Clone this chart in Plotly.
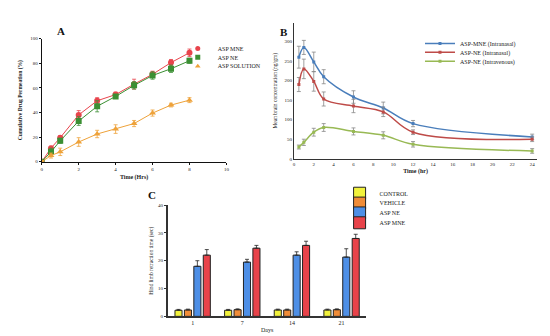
import plotly.graph_objects as go

# ---------- Panel A data ----------
a_time = [0, 0.5, 1, 2, 3, 4, 5, 6, 7, 8]
a_mne = [0, 11, 19.5, 38, 49.5, 54.5, 63, 71, 80.5, 88.5]
a_mne_err = [0, 1.5, 1.5, 3.5, 2.5, 2, 4, 2.5, 2.5, 3]
a_ne = [0, 8, 17, 33, 45, 53, 62, 70, 75.5, 82]
a_ne_err = [0, 3, 2, 3.5, 4.5, 1.5, 3, 3, 3, 2]
a_sol = [0, 5, 8, 16, 22.5, 26.5, 31, 39.5, 46, 50]
a_sol_err = [0, 2, 3, 3.5, 3, 3.5, 2.5, 2.5, 1.5, 2]

# ---------- Panel B data ----------
b_time = [0.5, 1, 2, 3, 6, 9, 12, 24]
b_mne = [260, 285, 248, 210, 158, 130, 90, 56]
b_mne_err = [28, 18, 25, 18, 16, 15, 8, 7]
b_ne = [190, 230, 198, 153, 135, 120, 68, 50]
b_ne_err = [18, 25, 25, 18, 17, 12, 6, 6]
b_iv = [30, 42, 68, 80, 70, 60, 37, 20]
b_iv_err = [5, 8, 10, 10, 9, 9, 7, 6]

# ---------- Panel C data ----------
c_days = ["1", "7", "14", "21"]
c_control = [2.2, 2.2, 2.3, 2.3]
c_control_err = [0.3, 0.3, 0.3, 0.3]
c_vehicle = [2.3, 2.4, 2.3, 2.4]
c_vehicle_err = [0.3, 0.3, 0.3, 0.3]
c_ne = [18, 19.5, 22, 21.3]
c_ne_err = [2, 1, 1.2, 3]
c_mne = [22, 24.5, 25.5, 28]
c_mne_err = [2, 1, 1.5, 1.5]

SERIF = "Liberation Serif"
W, H = 550, 336


def px_x(p):
    return p / W


def px_y(p):
    return 1 - p / H


fig = go.Figure()
legends = {}
leg_count = [0]


def new_legend(x_left, y_mid):
    leg_count[0] += 1
    key = "legend" if leg_count[0] == 1 else "legend%d" % leg_count[0]
    legends[key] = dict(x=px_x(x_left), y=px_y(y_mid), xanchor="left", yanchor="middle",
                        font=dict(family=SERIF, size=6, color="#222222"),
                        bgcolor="rgba(0,0,0,0)", itemwidth=30, tracegroupgap=0)
    return key


# Panel A traces
a_series = [
    ("ASP MNE", a_mne, a_mne_err, "#e8444c", "circle"),
    ("ASP NE", a_ne, a_ne_err, "#3b8f33", "square"),
    ("ASP SOLUTION", a_sol, a_sol_err, "#eea23a", "triangle-up"),
]
for name, y, e, col, sym in a_series:
    fig.add_trace(go.Scatter(
        x=a_time, y=y, mode="lines+markers", name=name, showlegend=False,
        line=dict(color=col, width=1),
        marker=dict(color=col, symbol=sym, size=6),
        error_y=dict(type="data", array=e, color=col, thickness=0.8, width=2),
        xaxis="x", yaxis="y"))
for i, (name, y, e, col, sym) in enumerate(a_series):
    fig.add_trace(go.Scatter(
        x=[None], y=[None], mode="markers", name=name,
        legend=new_legend(170, 39 + 9 * i),
        marker=dict(color=col, symbol=sym, size=5),
        xaxis="x", yaxis="y"))

# Panel B traces
b_series = [
    ("ASP-MNE (Intranasal)", b_mne, b_mne_err, "#4a7ebb"),
    ("ASP-NE (Intranasal)", b_ne, b_ne_err, "#be4b48"),
    ("ASP-NE (Intravenous)", b_iv, b_iv_err, "#98b954"),
]
for i, (name, y, e, col) in enumerate(b_series):
    fig.add_trace(go.Scatter(
        x=b_time, y=y, mode="lines+markers", name=name,
        legend=new_legend(414, 34 + 9 * i),
        line=dict(color=col, width=1.5, shape="spline", smoothing=1),
        marker=dict(color=col, symbol="square", size=3),
        error_y=dict(type="data", array=e, color="#888888", thickness=0.8, width=2),
        xaxis="x2", yaxis="y2"))

# Panel C traces
c_series = [
    ("CONTROL", c_control, c_control_err, "#f2f23c"),
    ("VEHICLE", c_vehicle, c_vehicle_err, "#f08c38"),
    ("ASP NE", c_ne, c_ne_err, "#4e8fe6"),
    ("ASP MNE", c_mne, c_mne_err, "#e8434a"),
]
for i, (name, y, e, col) in enumerate(c_series):
    fig.add_trace(go.Bar(
        x=c_days, y=y, name=name,
        legend=new_legend(333, 186 + 10 * i),
        marker=dict(color=col, line=dict(color="#222222", width=1)),
        error_y=dict(type="data", array=e, arrayminus=[0] * len(e), symmetric=False,
                     color="#222222", thickness=0.8, width=2),
        xaxis="x3", yaxis="y3"))

tickfont = dict(family=SERIF, size=5, color="#222222")

fig.update_layout(
    width=W, height=H,
    margin=dict(l=0, r=0, t=0, b=0),
    paper_bgcolor="white", plot_bgcolor="white",
    barmode="group", bargap=0.24, bargroupgap=0.25,
    font=dict(family=SERIF, color="#222222"),
    # Panel A axes
    xaxis=dict(domain=[px_x(33), px_x(219)], range=[0, 10], tickvals=[0, 2, 4, 6, 8, 10],
               showline=True, linecolor="#111111", linewidth=1, ticks="outside", ticklen=2,
               tickwidth=1, tickcolor="#111111", showgrid=False, zeroline=False,
               tickfont=tickfont,
               title=dict(text="<b>Time (Hrs)</b>", font=dict(family=SERIF, size=6), standoff=4),
               anchor="y"),
    yaxis=dict(domain=[px_y(154), px_y(29)], range=[0, 100], tickvals=[0, 20, 40, 60, 80, 100],
               showline=True, linecolor="#111111", linewidth=1, ticks="outside", ticklen=2,
               tickwidth=1, tickcolor="#111111", showgrid=False, zeroline=False,
               tickfont=tickfont,
               title=dict(text="<b>Cumulative Drug Permeation (%)</b>", font=dict(family=SERIF, size=5.5), standoff=7),
               anchor="x"),
    # Panel B axes
    xaxis2=dict(domain=[px_x(287), px_x(532)], range=[0, 24.5], tickvals=list(range(0, 25, 2)),
                showline=True, linecolor="#333333", linewidth=1, ticks="", showgrid=False,
                zeroline=False, tickfont=tickfont,
                title=dict(text="<b>Time (hr)</b>", font=dict(family=SERIF, size=6), standoff=3),
                anchor="y2"),
    yaxis2=dict(domain=[px_y(151), px_y(13)], range=[0, 348], tickvals=[0, 50, 100, 150, 200, 250, 300],
                showline=True, linecolor="#333333", linewidth=1, ticks="", showgrid=False,
                zeroline=False, tickfont=tickfont,
                title=dict(text="Mean brain concentration (ng/gm)", font=dict(family=SERIF, size=5.5), standoff=6),
                anchor="x2"),
    # Panel C axes
    xaxis3=dict(domain=[px_x(160), px_x(360)], range=[-0.5, 3.5], type="category",
                showline=True, linecolor="#333333", linewidth=1.5, ticks="", showgrid=False,
                tickfont=dict(family=SERIF, size=6, color="#222222"),
                title=dict(text="Days", font=dict(family=SERIF, size=6), standoff=2),
                anchor="y3"),
    yaxis3=dict(domain=[px_y(311), px_y(198)], range=[0, 40], tickvals=[0, 10, 20, 30, 40],
                showline=True, linecolor="#333333", linewidth=1.5, ticks="outside", ticklen=2,
                tickwidth=1, tickcolor="#333333", showgrid=False, zeroline=False,
                tickfont=tickfont,
                title=dict(text="Hind limb retraction time (sec)", font=dict(family=SERIF, size=5.5), standoff=4),
                anchor="x3"),
    annotations=[
        dict(text="<b>A</b>", x=px_x(46), y=px_y(13), xref="paper", yref="paper",
             showarrow=False, font=dict(family=SERIF, size=11, color="#111111")),
        dict(text="<b>B</b>", x=px_x(277), y=px_y(14), xref="paper", yref="paper",
             showarrow=False, font=dict(family=SERIF, size=11, color="#111111")),
        dict(text="<b>C</b>", x=px_x(138), y=px_y(188), xref="paper", yref="paper",
             showarrow=False, font=dict(family=SERIF, size=11, color="#111111")),
    ],
)
fig.update_layout(**legends)

fig.write_html("out.html")
